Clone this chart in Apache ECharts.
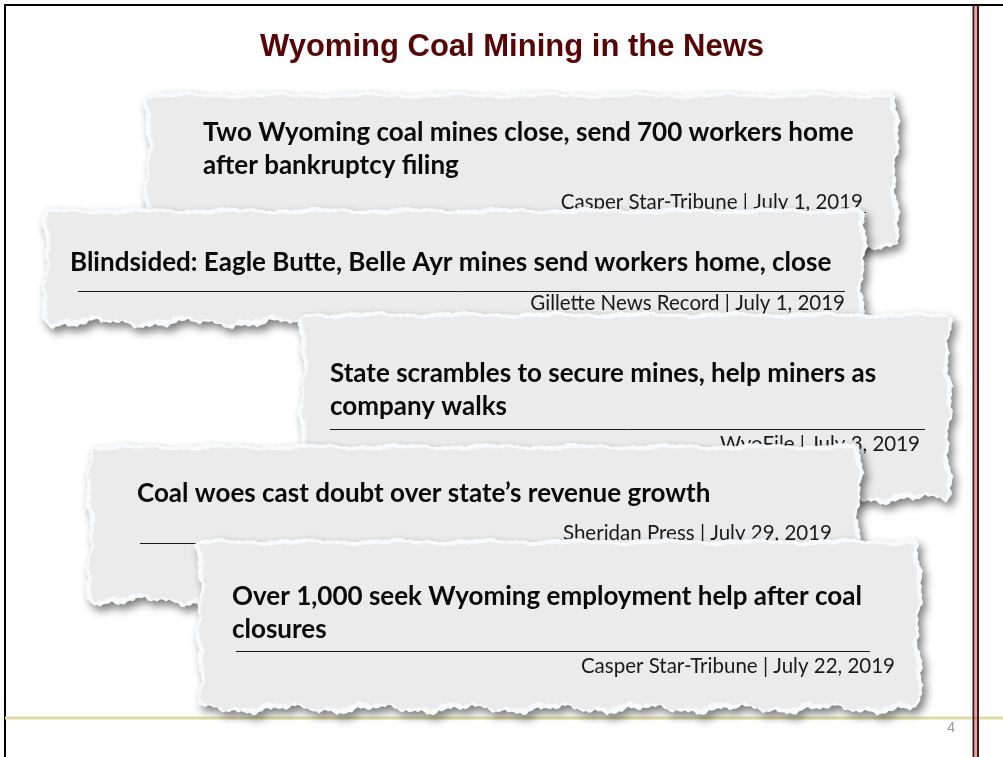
<!DOCTYPE html>
<html>
<head>
<meta charset="utf-8">
<script src="https://cdn.jsdelivr.net/npm/echarts@6/dist/echarts.min.js"></script>
<style>
  html, body { margin: 0; padding: 0; background: #fff; }
  #slide { width: 1003px; height: 757px; }
</style>
</head>
<body>
<div id="slide"></div>
<script>
// slide content
const title = 'Wyoming Coal Mining in the News'
const headlines = [
  ['Two Wyoming coal mines close, send 700 workers home', 'after bankruptcy filing'],
  ['Blindsided: Eagle Butte, Belle Ayr mines send workers home, close'],
  ['State scrambles to secure mines, help miners as', 'company walks'],
  ['Coal woes cast doubt over state\u2019s revenue growth'],
  ['Over 1,000 seek Wyoming employment help after coal', 'closures']
]
const outlets = ['Casper Star-Tribune', 'Gillette News Record', 'WyoFile', 'Sheridan Press', 'Casper Star-Tribune']
const dates = ['July 1, 2019', 'July 1, 2019', 'July 3, 2019', 'July 29, 2019', 'July 22, 2019']
const pageNo = '4'

// where each clipping sits on the slide
const layout = [
  { x0: 150, y0: 97, x1: 893, y1: 246, tx: 203, ty: 133, ruleY: 212, ruleX: [203, 866], srcX: 863, srcY: 202, seed: 1 },
  { x0: 48, y0: 213, x1: 860, y1: 320, tx: 70, ty: 263, ruleY: 291, ruleX: [78, 845], srcX: 845, srcY: 303, seed: 2 },
  { x0: 305, y0: 317, x1: 946, y1: 496, tx: 330, ty: 374, ruleY: 429, ruleX: [330, 925], srcX: 920, srcY: 444, seed: 3 },
  { x0: 92, y0: 449, x1: 856, y1: 598, tx: 137, ty: 494, ruleY: 543, ruleX: [140, 835], srcX: 832, srcY: 533, seed: 4 },
  { x0: 202, y0: 544, x1: 916, y1: 706, tx: 232, ty: 597, ruleY: 651, ruleX: [236, 870], srcX: 895, srcY: 666, seed: 5 }
]

const HEAD_FONT = 'bold 26px Lato, "Open Sans", sans-serif'
const SRC_FONT = '20.5px Lato, "Open Sans", sans-serif'

// ragged edge offset, purely decorative
function rag (i, s) {
  return 0.8 * Math.sin(i * 2.3 + s * 3.3) + 0.5 * Math.sin(i * 5.1 + s) +
    2.2 * Math.sin(i * 0.21 + s * 1.9) + 1.2 * Math.sin(i * 0.63 + s * 2.7)
}

function tornPoly (c, pad, s) {
  const pts = []
  const step = 3
  let k = 0
  for (let x = c.x0; x <= c.x1; x += step) pts.push([x, c.y0 - pad + rag(k++, s) * 0.6])
  for (let y = c.y0; y <= c.y1; y += step) pts.push([c.x1 + pad + rag(k++, s + 0.5), y])
  for (let x = c.x1; x >= c.x0; x -= step) pts.push([x, c.y1 + pad + rag(k++, s + 1.1) * 1.4])
  for (let y = c.y1; y >= c.y0; y -= step) pts.push([c.x0 - pad + rag(k++, s + 1.7), y])
  return pts
}

const elements = []

// frame lines
elements.push(
  { type: 'line', shape: { x1: 4, y1: 5, x2: 1003, y2: 5 }, style: { stroke: '#000', lineWidth: 2 } },
  { type: 'line', shape: { x1: 5, y1: 4, x2: 5, y2: 757 }, style: { stroke: '#000', lineWidth: 2 } },
  { type: 'line', shape: { x1: 5, y1: 718, x2: 1003, y2: 718 }, style: { stroke: '#dedca4', lineWidth: 3 } },
  { type: 'line', shape: { x1: 973.5, y1: 6, x2: 973.5, y2: 757 }, style: { stroke: '#5a1010', lineWidth: 2 } },
  { type: 'line', shape: { x1: 976, y1: 6, x2: 976, y2: 757 }, style: { stroke: '#9a6060', lineWidth: 1 } },
  { type: 'line', shape: { x1: 978, y1: 6, x2: 978, y2: 757 }, style: { stroke: '#5a1010', lineWidth: 2 } }
)

elements.push({
  type: 'text', x: 512, y: 47,
  style: { text: title, font: 'bold 31px "Liberation Sans", Arial, sans-serif', fill: '#560606', align: 'center', verticalAlign: 'middle' }
})
elements.push({
  type: 'text', x: 955, y: 728,
  style: { text: pageNo, font: '14px "Liberation Sans", Arial, sans-serif', fill: '#999', align: 'right', verticalAlign: 'middle' }
})

layout.forEach((c, i) => {
  const kids = []
  kids.push({
    type: 'polygon',
    shape: { points: tornPoly(c, 4, c.seed + 7) },
    style: { fill: '#f8f9fa', shadowBlur: 9, shadowOffsetX: 4, shadowOffsetY: 5, shadowColor: 'rgba(0,0,0,0.5)' }
  })
  kids.push({
    type: 'polygon',
    shape: { points: tornPoly(c, 0, c.seed) },
    style: { fill: '#ebebec' }
  })
  headlines[i].forEach((line, j) => {
    kids.push({
      type: 'text', x: c.tx, y: c.ty + j * 33,
      style: { text: line, font: HEAD_FONT, fill: '#0a0a0a', align: 'left', verticalAlign: 'middle' }
    })
  })
  kids.push({
    type: 'line', shape: { x1: c.ruleX[0], y1: c.ruleY + 0.5, x2: c.ruleX[1], y2: c.ruleY + 0.5 },
    style: { stroke: '#1a1a1a', lineWidth: 1 }
  })
  kids.push({
    type: 'text', x: c.srcX, y: c.srcY,
    style: { text: outlets[i] + ' | ' + dates[i], font: SRC_FONT, fill: '#1a1a1a', align: 'right', verticalAlign: 'middle' }
  })
  elements.push({ type: 'group', children: kids })
})

const chart = echarts.init(document.getElementById('slide'), null, { renderer: 'canvas' })
chart.setOption({
  backgroundColor: '#fff',
  animation: false,
  graphic: { elements: elements }
})
</script>
</body>
</html>
